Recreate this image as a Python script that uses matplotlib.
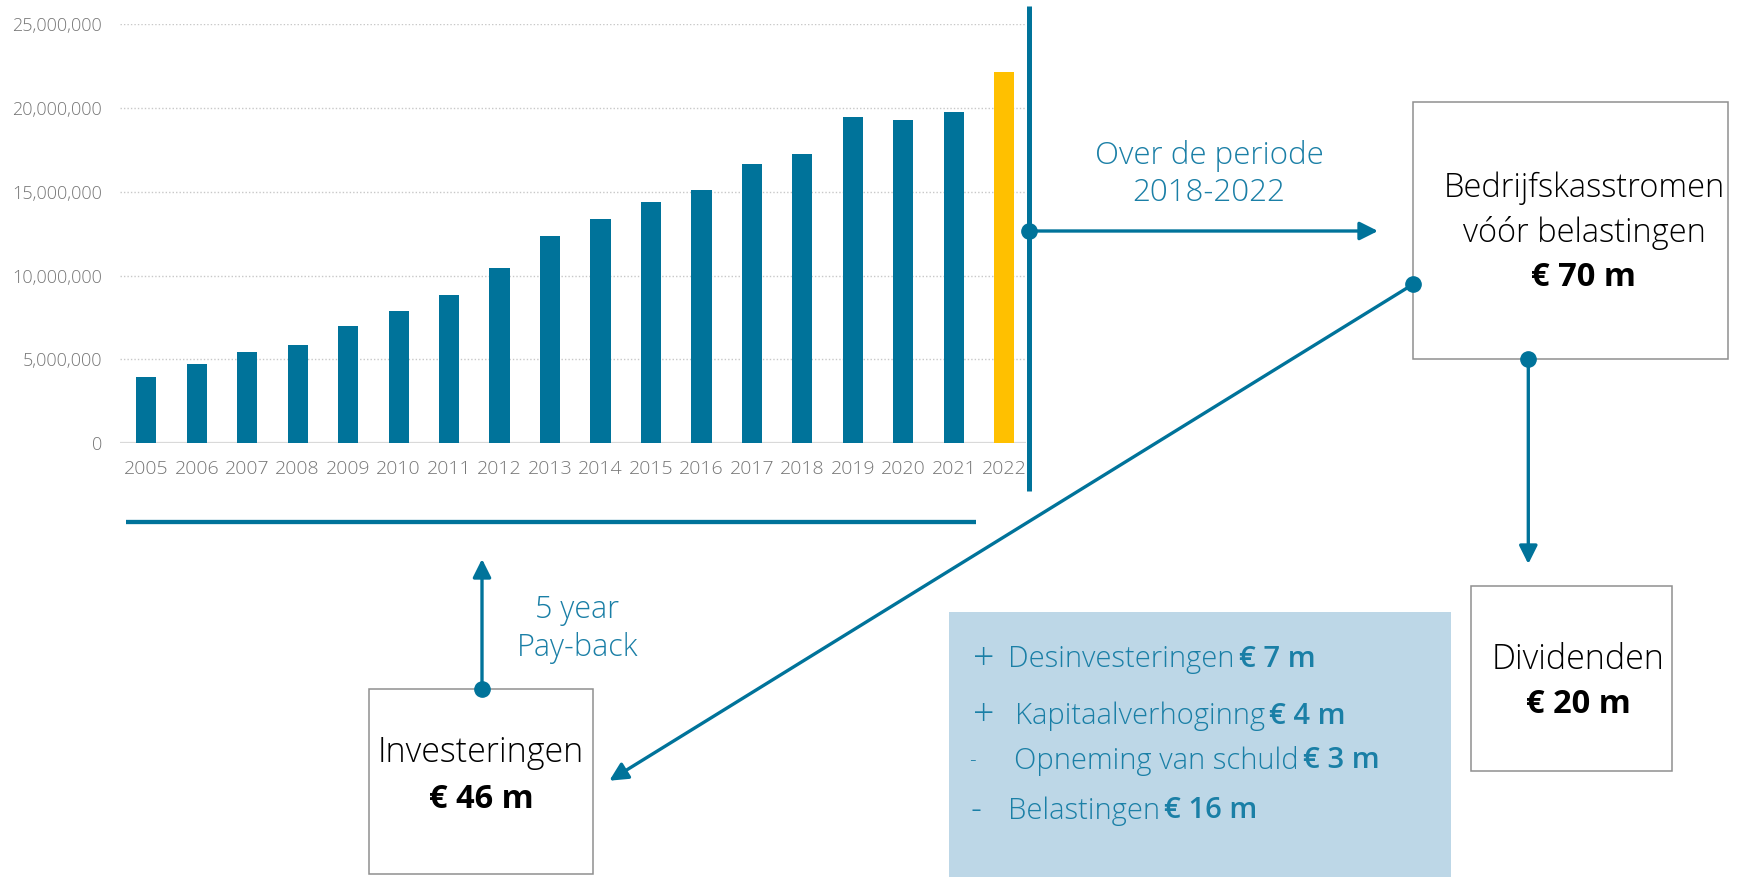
import matplotlib
matplotlib.use("Agg")
import matplotlib.pyplot as plt
from matplotlib.patches import Rectangle, FancyArrowPatch
from matplotlib.ticker import FuncFormatter

# operating cash flow per year (EUR)
years = ["2005", "2006", "2007", "2008", "2009", "2010", "2011", "2012", "2013",
         "2014", "2015", "2016", "2017", "2018", "2019", "2020", "2021", "2022"]
cashflow = [3.94e6, 4.73e6, 5.46e6, 5.84e6, 7.00e6, 7.87e6, 8.85e6, 10.45e6, 12.34e6,
            13.40e6, 14.37e6, 15.09e6, 16.64e6, 17.25e6, 19.46e6, 19.28e6, 19.76e6, 22.14e6]
highlight_year = "2022"
yticks = [0, 5e6, 10e6, 15e6, 20e6, 25e6]

# box texts
period_lines = ["Over de periode", "2018-2022"]
payback_lines = ["5 year", "Pay-back"]
ocf_lines = ["Bedrijfskasstromen", "vóór belastingen"]
ocf_amount = "€ 70 m"
inv_label, inv_amount = "Investeringen", "€ 46 m"
div_label, div_amount = "Dividenden", "€ 20 m"
adj_signs = ["+", "+", "-", "-"]
adj_names = ["Desinvesteringen", "Kapitaalverhoginng", "Opneming van schuld", "Belastingen"]
adj_amounts = ["€ 7 m", "€ 4 m", "€ 3 m", "€ 16 m"]

TEAL = "#00739A"
TEXT_TEAL = "#1A7FA6"
YELLOW = "#FFC000"
FONT = ["Open Sans", "DejaVu Sans"]
plt.rcParams["font.family"] = FONT

W, H = 1740, 877
DY = 3  # small downward nudge for text, va="center" counts the descent
fig = plt.figure(figsize=(W / 100, H / 100), dpi=100)


def px(x0, y0, x1, y1):
    # pixel box (y down) -> figure fraction rect
    return [x0 / W, 1 - y1 / H, (x1 - x0) / W, (y1 - y0) / H]


# --- bar chart ---
ax = fig.add_axes(px(120, 24, 1026, 443.3))
colors = [YELLOW if y == highlight_year else TEAL for y in years]
ax.bar(range(len(years)), cashflow, width=0.4, color=colors, zorder=3)
ax.set_xlim(-0.52, len(years) - 0.57)
ax.set_ylim(0, 25e6)
ax.set_yticks(yticks)
ax.yaxis.set_major_formatter(FuncFormatter(lambda v, _: f"{v:,.0f}"))
ax.set_xticks(range(len(years)))
ax.set_xticklabels(years)
ax.grid(axis="y", linestyle=(0, (1, 1.5)), color="#c8c8c8", linewidth=1.0, zorder=0)
for s in ax.spines.values():
    s.set_visible(False)
ax.axhline(0, color="#d9d9d9", linewidth=1.6, zorder=2)
ax.tick_params(axis="y", length=0, pad=13, labelsize=13, labelcolor="#767676")
ax.tick_params(axis="x", length=0, pad=12, labelsize=14, labelcolor="#767676")
for lab in ax.get_xticklabels() + ax.get_yticklabels():
    lab.set_fontweight("light")

# --- overlay in pixel coordinates ---
ov = fig.add_axes([0, 0, 1, 1])
ov.set_xlim(0, W)
ov.set_ylim(H, 0)
ov.axis("off")


def arrow(p0, p1, lw=2.4):
    ov.add_patch(FancyArrowPatch(p0, p1, arrowstyle="-|>,head_length=1.0,head_width=0.5",
                                 mutation_scale=11, color=TEAL, linewidth=lw,
                                 shrinkA=0, shrinkB=0))


def dot(x, y):
    ov.plot([x], [y], "o", color=TEAL, markersize=11, zorder=6)


def box(x0, y0, x1, y1):
    ov.add_patch(Rectangle((x0, y0), x1 - x0, y1 - y0, facecolor="none",
                           edgecolor="#8f8f8f", linewidth=1.1))


def label(x, y, txt, size, weight="light", color="black", ha="center"):
    return ov.text(x, y + DY, txt, ha=ha, va="center", fontsize=size,
                   fontweight=weight, color=color)


# vertical divider with arrow to the right
ov.plot([1029, 1029], [6, 491], color=TEAL, linewidth=3.6, solid_capstyle="butt")
arrow((1029, 231), (1378, 231))
dot(1029, 231)
for txt, y in zip(period_lines, [152.5, 190]):
    label(1209, y, txt, 22.5, color=TEXT_TEAL)

# horizontal line under the chart
ov.plot([126, 976], [522, 522], color=TEAL, linewidth=3.1, solid_capstyle="butt")

# pay-back arrow
arrow((482, 689), (482, 559))
dot(482, 689)
for txt, y in zip(payback_lines, [606.7, 645]):
    label(577.5, y, txt, 22, color=TEXT_TEAL)

# investeringen box
box(369.3, 689.3, 593.3, 874.3)
label(481, 750, inv_label, 24.5)
label(481, 796.7, inv_amount, 23.5, weight="bold")

# operating cash flow box
box(1413.3, 102.3, 1728.3, 359)
for txt, y in zip(ocf_lines, [185, 230]):
    label(1584, y, txt, 23.5)
label(1584, 275, ocf_amount, 23.5, weight="bold")

# diagonal arrow to investeringen
arrow((1413, 284.3), (609.3, 780.7))
dot(1413, 284.3)

# down arrow to dividenden
arrow((1528.3, 359), (1528.3, 564))
dot(1528.3, 359)
box(1470.7, 585.7, 1671.7, 770.7)
label(1578, 656.7, div_label, 24.5)
label(1578, 701.7, div_amount, 23.5, weight="bold")

# shaded adjustments box
ov.add_patch(Rectangle((949, 612.3), 1450.7 - 949, H - 612.3, facecolor="#BDD7E7",
                       edgecolor="none"))
sign_x = [983.3, 983.3, 972, 976]
sign_size = [27, 27, 15, 25]
name_x = [1008, 1015, 1014, 1008]
line_y = [656.7, 713, 758, 808]
for s, nm, am, sx, ss, nx, ly in zip(adj_signs, adj_names, adj_amounts,
                                      sign_x, sign_size, name_x, line_y):
    label(sx, ly, s, ss, color=TEXT_TEAL)
    t = label(nx, ly, nm, 21, color=TEXT_TEAL, ha="left")
    ov.annotate(am, xy=(1, 0.5), xycoords=t, xytext=(3, 0), textcoords="offset points",
                ha="left", va="center", fontsize=21, color=TEXT_TEAL, fontweight="semibold")

fig.savefig("out.png", dpi=100)
